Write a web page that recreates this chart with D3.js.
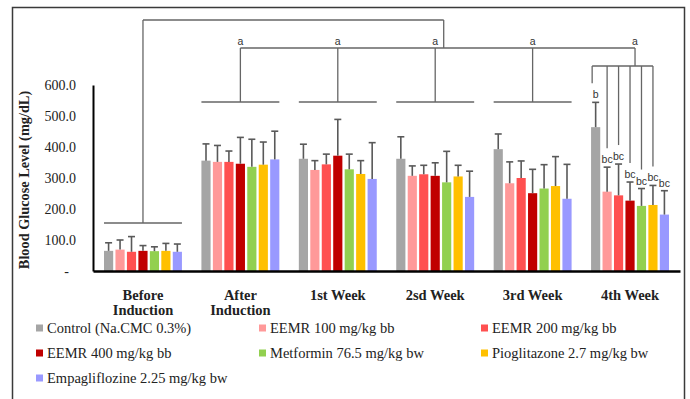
<!DOCTYPE html>
<html>
<head>
<meta charset="utf-8">
<script src="https://cdn.jsdelivr.net/npm/d3@7"></script>
<style>
  html, body { margin: 0; padding: 0; background: #fff; }
  svg { display: block; }
</style>
</head>
<body>
<svg id="chart" width="690" height="399"></svg>
<script>
// ---------------- DATA ----------------
const categories = ["Before Induction", "After Induction", "1st Week", "2sd Week", "3rd Week", "4th Week"];
const categoryLines = [["Before", "Induction"], ["After", "Induction"], ["1st Week"], ["2sd Week"], ["3rd Week"], ["4th Week"]];
const seriesNames = [
  "Control (Na.CMC 0.3%)",
  "EEMR 100 mg/kg bb",
  "EEMR 200 mg/kg bb",
  "EEMR 400 mg/kg bb",
  "Metformin 76.5 mg/kg bw",
  "Pioglitazone 2.7 mg/kg bw",
  "Empagliflozine 2.25 mg/kg bw"
];
const seriesColors = ["#A5A5A5", "#FF9999", "#FF5050", "#C00000", "#92D050", "#FFC000", "#9999FF"];

const controlVals   = [65, 356, 362, 362, 393, 464];
const eemr100Vals   = [69, 352, 326, 307, 283, 256];
const eemr200Vals   = [62, 352, 344, 312, 300, 244];
const eemr400Vals   = [65, 346, 372, 307, 251, 227];
const metforminVals = [64, 336, 328, 286, 266, 210];
const pioglitVals   = [65, 343, 313, 305, 274, 213];
const empagliVals   = [62, 360, 297, 239, 233, 182];

const controlErr   = [26, 54, 47, 71, 49, 80];
const eemr100Err   = [31, 53, 30, 32, 69, 79];
const eemr200Err   = [49, 35, 33, 29, 55, 101];
const eemr400Err   = [17, 85, 117, 42, 77, 60];
const metforminErr = [14, 89, 49, 100, 77, 56];
const pioglitErr   = [24, 73, 43, 36, 95, 63];
const empagliErr   = [25, 91, 117, 83, 111, 77];

const yTicks = [0, 100, 200, 300, 400, 500, 600];
const yTickLabels = ["-", "100.0", "200.0", "300.0", "400.0", "500.0", "600.0"];
const yTitle = "Blood Glucose Level (mg/dL)";

const week4Letters = ["b", "bc", "bc", "bc", "bc", "bc", "bc"];
const groupLetter = "a";

// ---------------- BUILD ----------------
const seriesValues = [controlVals, eemr100Vals, eemr200Vals, eemr400Vals, metforminVals, pioglitVals, empagliVals];
const seriesErrors = [controlErr, eemr100Err, eemr200Err, eemr400Err, metforminErr, pioglitErr, empagliErr];

const svg = d3.select("#chart");
const serif = "'Liberation Serif', 'Times New Roman', serif";
const sans = "'Liberation Sans', Arial, sans-serif";

// frame
svg.append("rect").attr("x", 12.5).attr("y", 7.5).attr("width", 672).attr("height", 420)
  .attr("fill", "none").attr("stroke", "#3a3a3a").attr("stroke-width", 1.5);

const x = d3.scaleBand().domain(categories).range([93, 680]).paddingInner(0.2).paddingOuter(0.113);
const xs = d3.scaleBand().domain(seriesNames).range([0, x.bandwidth()]).paddingInner(0.2).paddingOuter(0);
const y = d3.scaleLinear().domain([0, 600]).range([271, 85]);

// bars
const barData = [];
seriesNames.forEach((s, si) => {
  categories.forEach((c, ci) => {
    barData.push({ s, si, c, ci, v: seriesValues[si][ci], e: seriesErrors[si][ci] });
  });
});

svg.append("g").selectAll("rect").data(barData).join("rect")
  .attr("x", d => x(d.c) + xs(d.s))
  .attr("y", d => y(d.v))
  .attr("width", xs.bandwidth())
  .attr("height", d => y(0) - y(d.v))
  .attr("fill", d => seriesColors[d.si]);

// error bars
const eg = svg.append("g").attr("stroke", "#595959").attr("stroke-width", 1.6);
barData.forEach(d => {
  const cx = x(d.c) + xs(d.s) + xs.bandwidth() / 2;
  eg.append("line").attr("x1", cx).attr("x2", cx).attr("y1", y(d.v)).attr("y2", y(d.v + d.e));
  eg.append("line").attr("x1", cx - 3.5).attr("x2", cx + 3.5).attr("y1", y(d.v + d.e)).attr("y2", y(d.v + d.e));
});

// axes
const yAxis = d3.axisLeft(y).tickValues(yTicks).tickSize(0).tickSizeOuter(0).tickPadding(17)
  .tickFormat((d, i) => yTickLabels[i]);
const yg = svg.append("g").attr("transform", "translate(93,0)").call(yAxis);
yg.select(".domain").attr("stroke", "#000").attr("stroke-width", 2);
yg.selectAll("text").attr("font-family", serif).attr("font-size", 14).attr("fill", "#222")
  .attr("dx", (d, i) => yTickLabels[i] === "-" ? -7 : 0);

const xAxis = d3.axisBottom(x).tickSize(0).tickSizeOuter(0).tickFormat(() => "");
const xg = svg.append("g").attr("transform", "translate(0,271)").call(xAxis);
xg.select(".domain").attr("stroke", "#000").attr("stroke-width", 2.5);
xg.selectAll(".tick text").remove();
xg.selectAll(".tick").each(function(d, i) {
  const t = d3.select(this).append("text")
    .attr("font-family", serif).attr("font-size", 14.5).attr("font-weight", "bold")
    .attr("fill", "#222").attr("text-anchor", "middle").attr("y", 29);
  categoryLines[i].forEach((ln, k) => {
    t.append("tspan").attr("x", 0).attr("dy", k === 0 ? 0 : 15).text(ln);
  });
});

// y title
svg.append("text")
  .attr("transform", "translate(29,180) rotate(-90)")
  .attr("text-anchor", "middle")
  .attr("font-family", serif).attr("font-size", 14.3).attr("font-weight", "bold").attr("fill", "#222")
  .text(yTitle);

// ---------------- significance brackets ----------------
const lg = svg.append("g").attr("stroke", "#666").attr("stroke-width", 1.3).attr("fill", "none");
const cx = c => x(c) + x.bandwidth() / 2;
const topY = 20, aY = 48, grpY = 102, beforeY = 223, w4Y = 66;

// before-induction group horizontal
lg.append("line").attr("x1", x(categories[0])).attr("x2", x(categories[0]) + x.bandwidth())
  .attr("y1", beforeY).attr("y2", beforeY);
lg.append("line").attr("x1", cx(categories[0])).attr("x2", cx(categories[0])).attr("y1", beforeY).attr("y2", topY);

// group horizontals for after..3rd
categories.slice(1, 5).forEach(c => {
  lg.append("line").attr("x1", x(c)).attr("x2", x(c) + x.bandwidth()).attr("y1", grpY).attr("y2", grpY);
  lg.append("line").attr("x1", cx(c)).attr("x2", cx(c)).attr("y1", grpY).attr("y2", aY);
});

// 4th week sub-bracket
const c4 = categories[5];
const w4Centers = seriesNames.map(s => x(c4) + xs(s) + xs.bandwidth() / 2);
const w4Tops = seriesNames.map((s, si) => y(seriesValues[si][5] + seriesErrors[si][5]));
const w4LineX = w4Centers.slice(0, 6).map((v, i) => i === 0 ? v - 3.5 : v);
lg.append("line").attr("x1", w4LineX[0]).attr("x2", w4LineX[5]).attr("y1", w4Y).attr("y2", w4Y);
w4LineX.forEach((lx, i) => {
  lg.append("line").attr("x1", lx).attr("x2", lx).attr("y1", w4Y).attr("y2", w4Tops[i] - 19);
});
const a4x = cx(c4) + 5;
lg.append("line").attr("x1", a4x).attr("x2", a4x).attr("y1", w4Y).attr("y2", aY);

// "a" horizontal
const aLeft = cx(categories[1]);
lg.append("line").attr("x1", aLeft).attr("x2", a4x).attr("y1", aY).attr("y2", aY);
const bigRight = (aLeft + a4x) / 2 + 6;
lg.append("line").attr("x1", bigRight).attr("x2", bigRight).attr("y1", aY).attr("y2", topY);
lg.append("line").attr("x1", cx(categories[0])).attr("x2", bigRight).attr("y1", topY).attr("y2", topY);

// "a" labels
const aXs = categories.slice(1, 5).map(cx).concat([a4x]);
svg.append("g").selectAll("text").data(aXs).join("text")
  .attr("x", d => d).attr("y", aY - 3)
  .attr("text-anchor", "middle").attr("font-family", sans).attr("font-size", 10.5).attr("fill", "#333")
  .text(groupLetter);

// 4th week letters
svg.append("g").selectAll("text").data(week4Letters).join("text")
  .attr("x", (d, i) => w4Centers[i]).attr("y", (d, i) => w4Tops[i] - 4)
  .attr("text-anchor", "middle").attr("font-family", sans).attr("font-size", 10.5).attr("fill", "#333")
  .text(d => d);

// ---------------- legend ----------------
const legendCols = [36, 259, 481];
const legendRows = [328, 353, 378];
const leg = svg.append("g");
seriesNames.forEach((s, i) => {
  const lx = legendCols[i % 3], ly = legendRows[Math.floor(i / 3)];
  leg.append("rect").attr("x", lx).attr("y", ly - 3.5).attr("width", 7).attr("height", 7).attr("fill", seriesColors[i]);
  leg.append("text").attr("x", lx + 11).attr("y", ly + 5)
    .attr("font-family", serif).attr("font-size", 14.5).attr("fill", "#222").text(s);
});
</script>
</body>
</html>
